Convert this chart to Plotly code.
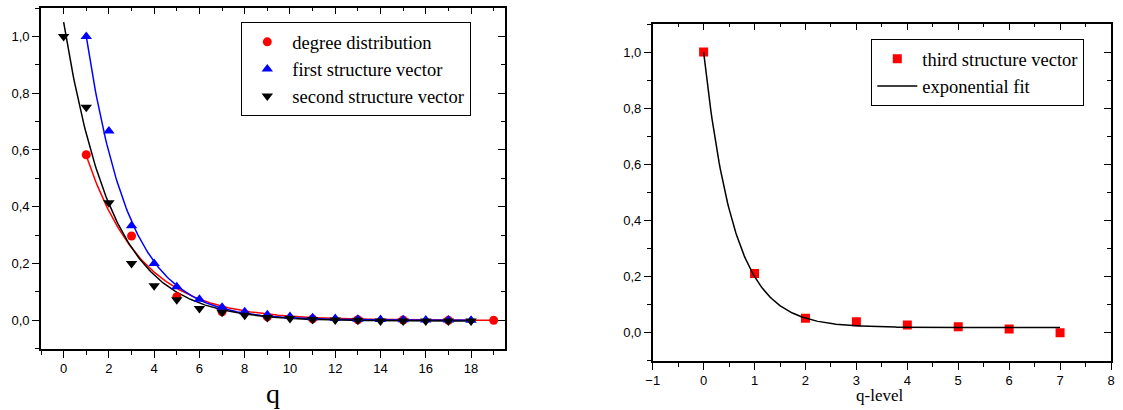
import numpy as np
import plotly.graph_objects as go

# ---------------- data ----------------
degree_q = [1, 3, 5, 7, 9, 11, 13, 15, 17, 19]
degree_vals = [0.583, 0.297, 0.083, 0.030, 0.012, 0.005, 0.002, 0.001, 0.0, 0.0]

first_q = list(range(1, 19))
first_vals = [1.0, 0.667, 0.333, 0.200, 0.118, 0.074, 0.046, 0.030, 0.020, 0.013,
              0.009, 0.006, 0.004, 0.003, 0.002, 0.001, 0.001, 0.0]

second_q = list(range(0, 19))
second_vals = [1.0, 0.750, 0.414, 0.200, 0.122, 0.072, 0.042, 0.028, 0.018, 0.010,
               0.006, 0.003, 0.001, 0.0, -0.002, -0.002, -0.002, -0.002, -0.002]

third_q = list(range(0, 8))
third_vals = [1.0, 0.211, 0.051, 0.039, 0.027, 0.021, 0.013, 0.0]

# exponential fit parameters (amplitude, decay, offset, x-shift, x-start, x-end)
degree_fit = dict(A=0.58, t=2.44, y0=0.0, x0=1, xs=1, xe=19)
first_fit = dict(A=1.0, t=1.9, y0=0.0, x0=1, xs=1, xe=18)
second_fit = dict(A=1.053, t=2.14, y0=-0.003, x0=0, xs=0, xe=18)
third_fit = dict(A=0.982, t=0.593, y0=0.018, x0=0, xs=0, xe=7)

left_xticks = list(range(0, 19, 2))
right_xticks = list(range(-1, 9))
y_ticks = [0.0, 0.2, 0.4, 0.6, 0.8, 1.0]


def fit_curve(p):
    x = np.linspace(p["xs"], p["xe"], 300)
    y = p["y0"] + p["A"] * np.exp(-(x - p["x0"]) / p["t"])
    return x, y


RED = "#ff0000"
BLUE = "#0000ff"
BLACK = "#000000"
SERIF = "Liberation Serif, Times New Roman, serif"
SANS = "Liberation Sans, Arial, sans-serif"

fig = go.Figure()

# ---- left panel fits ----
for p, c in [(degree_fit, RED), (first_fit, BLUE), (second_fit, BLACK)]:
    fx, fy = fit_curve(p)
    fig.add_trace(go.Scatter(x=fx, y=fy, mode="lines", line=dict(color=c, width=1.5),
                             showlegend=False, hoverinfo="skip", xaxis="x", yaxis="y"))

fig.add_trace(go.Scatter(x=degree_q, y=degree_vals, mode="markers", name="degree distribution",
                         marker=dict(symbol="circle", size=9, color=RED), xaxis="x", yaxis="y",
                         legend="legend"))
fig.add_trace(go.Scatter(x=first_q, y=first_vals, mode="markers", name="first structure vector",
                         marker=dict(symbol="triangle-up", size=10, color=BLUE), xaxis="x", yaxis="y",
                         legend="legend"))
fig.add_trace(go.Scatter(x=second_q, y=second_vals, mode="markers", name="second structure vector",
                         marker=dict(symbol="triangle-down", size=10, color=BLACK), xaxis="x", yaxis="y",
                         legend="legend"))

# ---- right panel ----
fx, fy = fit_curve(third_fit)
fig.add_trace(go.Scatter(x=third_q, y=third_vals, mode="markers", name="third structure vector",
                         marker=dict(symbol="square", size=9, color=RED), xaxis="x2", yaxis="y2",
                         legend="legend2"))
fig.add_trace(go.Scatter(x=fx, y=fy, mode="lines", name="exponential fit",
                         line=dict(color=BLACK, width=1.5), xaxis="x2", yaxis="y2",
                         legend="legend2"))

# empty traces for the mirrored (inside-tick) axes
fig.add_trace(go.Scatter(x=[None], y=[None], xaxis="x3", yaxis="y3", showlegend=False, hoverinfo="skip"))
fig.add_trace(go.Scatter(x=[None], y=[None], xaxis="x4", yaxis="y4", showlegend=False, hoverinfo="skip"))

W, H = 1123, 410
L_dom_x = [41 / W, 505 / W]
L_dom_y = [1 - 348.7 / H, 1 - 8 / H]
R_dom_x = [652.7 / W, 1111 / W]
R_dom_y = [1 - 360.7 / H, 1 - 24 / H]

tickfont = dict(family=SANS, size=13, color="black")
LW = 1.6
TW = 1.3


def xax(dom, anchor, rng, tvals, mdt, inside=False, overlay=None, side="bottom"):
    d = dict(domain=dom, anchor=anchor, range=rng, tickvals=tvals, automargin=False,
             showgrid=False, zeroline=False, showline=True, linecolor="black", linewidth=LW,
             ticks="inside" if inside else "outside", ticklen=6 if inside else 7,
             tickwidth=TW, tickcolor="black", tickfont=tickfont, side=side,
             minor=dict(dtick=mdt, tick0=0, ticks="inside" if inside else "outside",
                        ticklen=3 if inside else 4, tickwidth=TW, tickcolor="black",
                        showgrid=False))
    if inside:
        d["showticklabels"] = False
    if overlay:
        d["overlaying"] = overlay
        d["matches"] = overlay
    return d


def yax(dom, anchor, inside=False, overlay=None, side="left"):
    d = dict(domain=dom, anchor=anchor, range=[-0.1, 1.1], tickvals=y_ticks, tickformat=".1f",
             automargin=False, showgrid=False, zeroline=False, showline=True, linecolor="black",
             linewidth=LW, ticks="inside" if inside else "outside", ticklen=7,
             tickwidth=TW, tickcolor="black", tickfont=tickfont, side=side,
             minor=dict(dtick=0.1, tick0=0, ticks="inside" if inside else "outside",
                        ticklen=4, tickwidth=TW, tickcolor="black", showgrid=False))
    if inside:
        d["showticklabels"] = False
    if overlay:
        d["overlaying"] = overlay
        d["matches"] = overlay
    return d


LEG_FONT = dict(family=SERIF, size=18.5, color="black")

fig.update_layout(
    template="none",
    width=W, height=H, margin=dict(l=0, r=0, t=0, b=0),
    paper_bgcolor="white", plot_bgcolor="white",
    separators=",.",
    showlegend=True,
    xaxis=xax(L_dom_x, "y", [-1, 19.5], left_xticks, 1),
    yaxis=yax(L_dom_y, "x"),
    xaxis3=xax(L_dom_x, "y3", [-1, 19.5], left_xticks, 1, inside=True, overlay="x", side="top"),
    yaxis3=yax(L_dom_y, "x3", inside=True, overlay="y", side="right"),
    xaxis2=xax(R_dom_x, "y2", [-1, 8], right_xticks, 0.5),
    yaxis2=yax(R_dom_y, "x2"),
    xaxis4=xax(R_dom_x, "y4", [-1, 8], right_xticks, 0.5, inside=True, overlay="x2", side="top"),
    yaxis4=yax(R_dom_y, "x4", inside=True, overlay="y2", side="right"),
    legend=dict(x=241 / W, y=1 - 22 / H, xanchor="left", yanchor="top",
                bgcolor="white", bordercolor="black", borderwidth=1.3,
                font=LEG_FONT, itemwidth=40, tracegroupgap=0),
    legend2=dict(x=871 / W, y=1 - 39 / H, xanchor="left", yanchor="top",
                 bgcolor="white", bordercolor="black", borderwidth=1.3,
                 font=LEG_FONT, itemwidth=40, tracegroupgap=0),
    annotations=[
        dict(text="q", xref="paper", yref="paper", x=273 / W, y=1 - 393 / H,
             xanchor="center", yanchor="middle", showarrow=False,
             font=dict(family=SERIF, size=28, color="black")),
        dict(text="q-level", xref="paper", yref="paper", x=879 / W, y=1 - 395 / H,
             xanchor="center", yanchor="middle", showarrow=False,
             font=dict(family=SERIF, size=17, color="black")),
    ],
)

fig.write_html("out.html", config={"displayModeBar": False, "responsive": False},
               post_script="document.body.style.margin='0';document.body.style.padding='0';"
                           "document.body.style.overflow='hidden';")
